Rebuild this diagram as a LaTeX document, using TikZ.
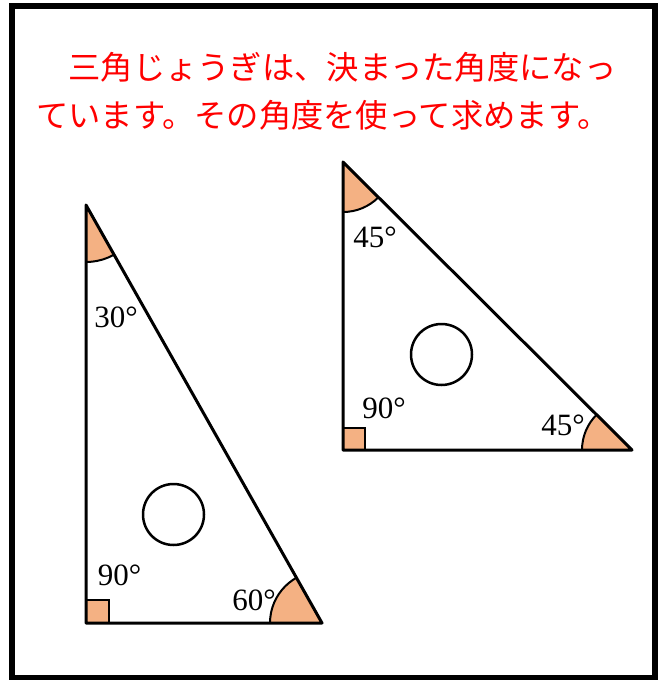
\documentclass[tikz,border=0pt]{standalone}
\usepackage{fontspec}
\setmainfont{Liberation Serif}
\newfontfamily\jpfont{Noto Sans CJK JP}
\definecolor{wedgecol}{HTML}{F4B183}
\definecolor{jpred}{RGB}{255,0,0}
\begin{document}
\begin{tikzpicture}[x=1pt,y=-1pt,
  edge/.style={line width=3pt, line join=round, line cap=round},
  arcline/.style={line width=2pt},
  wedgefill/.style={fill=wedgecol},
  rightsq/.style={fill=wedgecol, draw=black, line width=2.5pt},
  hole/.style={circle, draw=black, line width=2.5pt, minimum size=61pt, inner sep=0pt},
  deg/.style={anchor=base, inner sep=0pt, font=\fontsize{31}{31}\selectfont},
  jptext/.style={anchor=base west, inner sep=0pt, text=jpred, font=\jpfont\fontsize{32.3}{32.3}\selectfont}]
\useasboundingbox (0,0) rectangle (658,680);
\fill[white] (0,0) rectangle (658,680);
% frame
\draw[line width=6pt] (12,6) rectangle (655,678);
% text
\node[jptext] (line1) at (36,79) {　三角じょうぎは、決まった角度になっ};
\node[jptext] (line2) at (36,127) {ています。その角度を使って求めます。};
% left triangle (30-60-90)
\coordinate (A) at (86,205);
\coordinate (C) at (86,623);
\coordinate (B) at (322,623);
\begin{scope}
  \clip (A) -- (B) -- (C) -- cycle;
  \fill[wedgefill] (A) circle (57);
  \draw[arcline] (A) circle (57);
  \fill[wedgefill] (B) circle (52);
  \draw[arcline] (B) circle (52);
\end{scope}
\draw[rightsq] (C) rectangle ++(23,-23);
\draw[edge] (A) -- (B) -- (C) -- cycle;
\node[hole] (hole1) at (173.5,514.5) {};
\node[deg] (a30) at (116,327) {30°};
\node[deg] (a90l) at (119.5,585) {90°};
\node[deg] (a60) at (254,610) {60°};
% right triangle (45-45-90)
\coordinate (P) at (343,162);
\coordinate (Q) at (343,450);
\coordinate (R) at (632,450);
\begin{scope}
  \clip (P) -- (R) -- (Q) -- cycle;
  \fill[wedgefill] (P) circle (50);
  \draw[arcline] (P) circle (50);
  \fill[wedgefill] (R) circle (50);
  \draw[arcline] (R) circle (50);
\end{scope}
\draw[rightsq] (Q) rectangle ++(22,-22);
\draw[edge] (P) -- (R) -- (Q) -- cycle;
\node[hole] (hole2) at (441.5,354.5) {};
\node[deg] (a45t) at (375,247) {45°};
\node[deg] (a90r) at (384,418) {90°};
\node[deg] (a45r) at (563,435) {45°};
\end{tikzpicture}
\end{document}
